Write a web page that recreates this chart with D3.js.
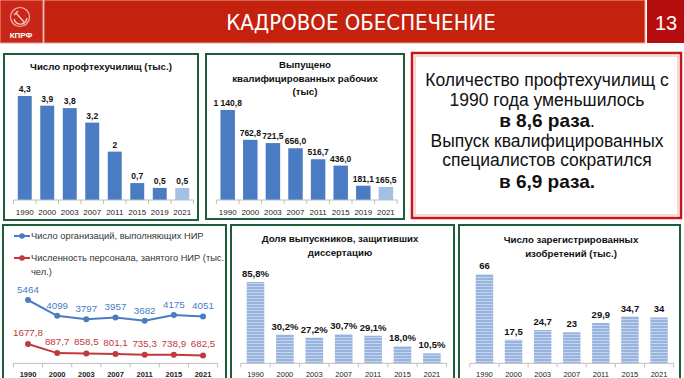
<!DOCTYPE html>
<html><head><meta charset="utf-8">
<script src="https://cdn.jsdelivr.net/npm/d3@7"></script>
<style>body{margin:0;background:#fff}svg{display:block}text{font-family:"Liberation Sans",Arial,sans-serif}</style>
</head><body>
<svg id="c" width="684" height="378"></svg>
<script>
// ---------- data ----------
const yearsTop = ["1990","2000","2003","2007","2011","2015","2019","2021"];
const schools = [4.3,3.9,3.8,3.2,2,0.7,0.5,0.5];
const workers = [1140.8,762.8,721.5,656.0,516.7,436.0,181.1,165.5];
const yearsBottom = ["1990","2000","2003","2007","2011","2015","2021"];
const orgs = [5464,4099,3797,3957,3682,4175,4051];
const staff = [1677.8,887.7,858.5,801.1,735.3,738.9,682.5];
const theses = [85.8,30.2,27.2,30.7,29.1,18.0,10.5];
const patents = [66,17.5,24.7,23,29.9,34.7,34];
const titleMain = "КАДРОВОЕ ОБЕСПЕЧЕНИЕ";
const pageNo = "13";
const title1 = ["Число профтехучилищ (тыс.)"];
const title2 = ["Выпущено","квалифицированных рабочих","(тыс)"];
const legend4 = [["Число организаций, выполняющих НИР"],["Численность персонала, занятого НИР (тыс.","чел.)"]];
const title5 = ["Доля выпускников, защитивших","диссертацию"];
const title6 = ["Число зарегистрированных","изобретений (тыс.)"];
const boxLines = [
  [{t:"Количество профтехучилищ с",b:false}],
  [{t:"1990 года уменьшилось",b:false}],
  [{t:"в 8,6 раза",b:true},{t:".",b:false}],
  [{t:"Выпуск квалифицированных",b:false}],
  [{t:"специалистов сократился",b:false}],
  [{t:"в 6,9 раза.",b:true}]
];

const loc = d3.formatLocale({decimal:",", thousands:" ", grouping:[3], currency:["",""]});
const f1 = loc.format(",.1f");
const f1n = loc.format(".1f");
const fPlain = d => String(d).replace(".", ",");
const fPct = d => loc.format(".1f")(d) + "%";

const svg = d3.select("#c");
const defs = svg.append("defs");
const pat = defs.append("pattern").attr("id","stripes").attr("patternUnits","userSpaceOnUse").attr("width",4).attr("height",3);
pat.append("rect").attr("width",4).attr("height",3).attr("fill","#98b3de");
pat.append("rect").attr("y",1).attr("width",4).attr("height",1).attr("fill","#c3d4ee");

// ---------- header ----------
svg.append("rect").attr("x",0).attr("y",0).attr("width",43).attr("height",43).attr("fill","#c9261a").attr("stroke","#e7a090").attr("stroke-width",1);
svg.append("circle").attr("cx",20).attr("cy",17).attr("r",9.5).attr("fill","none").attr("stroke","#f0b8b0").attr("stroke-width",1.2);
svg.append("path").attr("d","M14,19 Q16,25 22,24 Q26,23 27,18 M16,13 L24,22 M14,15 L18,11").attr("fill","none").attr("stroke","#f3c8c0").attr("stroke-width",1.4);
svg.append("text").attr("x",21).attr("y",38).attr("text-anchor","middle").attr("fill","#fff").attr("font-weight","bold").attr("font-size",8).text("КПРФ");
svg.append("rect").attr("x",44).attr("y",0).attr("width",601).attr("height",43).attr("fill","#c4210f").attr("stroke","#e8a898").attr("stroke-width",1);
svg.append("rect").attr("x",647).attr("y",0).attr("width",37).attr("height",43).attr("fill","#b50d0d");
svg.append("text").attr("x",361).attr("y",30).attr("text-anchor","middle").attr("fill","#fff").attr("font-size",22)
  .style("font-family","'Liberation Sans Narrow','DejaVu Sans Condensed',sans-serif").text(titleMain);
svg.append("text").attr("x",666).attr("y",30).attr("text-anchor","middle").attr("fill","#fff").attr("font-size",20).text(pageNo);

// ---------- panels ----------
const green = "#1f5c3c";
function panel(x,y,w,h,col,sw){ svg.append("rect").attr("x",x).attr("y",y).attr("width",w).attr("height",h).attr("fill","#fff").attr("stroke",col).attr("stroke-width",sw); }
panel(4,54,194,166,green,2);
panel(206,54,198,165,green,2);
panel(412,53,269,165,"#c8141c",2.5);
svg.append("rect").attr("x",415).attr("y",56).attr("width",263).attr("height",159).attr("fill","none").attr("stroke","#e88080").attr("stroke-width",0.6);
panel(3,225,223,160,green,2);
panel(231,225,223,160,green,2);
panel(459,225,221,160,green,2);

function titleBlock(lines,cx,y0,dy,size){
  const t = svg.append("text").attr("text-anchor","middle").attr("font-weight","bold").attr("font-size",size).attr("fill","#111");
  lines.forEach((l,i)=>t.append("tspan").attr("x",cx).attr("y",y0+i*dy).text(l));
}

function axisBase(x,y0,labelsY,fs,weight){
  const r = x.range();
  const g = svg.append("g");
  g.append("line").attr("x1",r[0]).attr("x2",r[1]).attr("y1",y0).attr("y2",y0).attr("stroke","#bfbfbf").attr("stroke-width",1);
  const ticks = x.domain().map(d=>x(d)-x.step()*x.paddingInner()/2).concat([r[1]]);
  ticks.forEach(t=>g.append("line").attr("x1",t).attr("x2",t).attr("y1",y0).attr("y2",y0+4).attr("stroke","#bfbfbf"));
  g.selectAll("text.yl").data(x.domain()).join("text").attr("class","yl")
    .attr("x",d=>x(d)+x.bandwidth()/2).attr("y",labelsY).attr("text-anchor","middle")
    .attr("font-size",fs).attr("font-weight",weight).attr("fill","#222").text(d=>d);
}

function barChart(o){
  const x = d3.scaleBand().domain(o.cats).range(o.xr).paddingInner(o.pad).paddingOuter(o.pad/2);
  const y = d3.scaleLinear().domain([0,o.max]).range([o.base,o.top]);
  svg.append("g").selectAll("rect").data(o.vals).join("rect")
    .attr("x",(d,i)=>x(o.cats[i])).attr("width",x.bandwidth())
    .attr("y",d=>y(d)).attr("height",d=>o.base-y(d))
    .attr("fill",(d,i)=>o.color(i));
  svg.append("g").selectAll("text").data(o.vals).join("text")
    .attr("x",(d,i)=>x(o.cats[i])+x.bandwidth()/2).attr("y",d=>y(d)-o.lblOff)
    .attr("text-anchor","middle").attr("font-weight","bold").attr("font-size",o.lblSize).attr("fill","#111")
    .text(o.fmt);
  axisBase(x,o.base,o.yearY,o.yearSize,"normal");
}

// chart 1
titleBlock(title1,101,70,13,9.7);
barChart({cats:yearsTop,vals:schools,xr:[13.5,193.5],pad:0.38,max:4.3,base:200,top:96,
  color:i=>i===yearsTop.length-1?"#a2bfe4":"#4a7cc3",fmt:fPlain,lblOff:4,lblSize:8.5,yearY:215,yearSize:8});
// chart 2
titleBlock(title2,305,68,13.5,9.7);
barChart({cats:yearsTop,vals:workers,xr:[216.4,397.2],pad:0.36,max:1140.8,base:200,top:110,
  color:i=>i===yearsTop.length-1?"#a2bfe4":"#4a7cc3",fmt:f1,lblOff:4,lblSize:8.5,yearY:215,yearSize:8});

// text box
boxLines.forEach((line,i)=>{
  const ys=[86,106,127,147,166,188];
  const t = svg.append("text").attr("x",547).attr("y",ys[i]).attr("text-anchor","middle").attr("fill","#111");
  line.forEach(p=>t.append("tspan").attr("font-weight",p.b?"bold":"normal").attr("font-size",p.b?19:17.5).text(p.t));
});

// chart 4 line chart
{
  const x = d3.scaleBand().domain(yearsBottom).range([13.4,217.6]).paddingInner(0.4).paddingOuter(0.2);
  const y = d3.scaleLinear().domain([0,5464]).range([363.4,300]);
  const cx = d => x(d)+x.bandwidth()/2;
  const series = [{v:orgs,c:"#4a7cc3",fmt:d=>String(d),off:7},{v:staff,c:"#c0393b",fmt:f1n,off:8}];
  series.forEach((s,k)=>{
    const ly = k===0?236:258;
    svg.append("line").attr("x1",14).attr("x2",30).attr("y1",ly).attr("y2",ly).attr("stroke",s.c).attr("stroke-width",2);
    svg.append("circle").attr("cx",22).attr("cy",ly).attr("r",2.8).attr("fill",s.c);
    const t = svg.append("text").attr("font-size",9.3).attr("fill","#333");
    legend4[k].forEach((l,j)=>t.append("tspan").attr("x",31).attr("y",ly+3.3+j*14).text(l));
    const line = d3.line().x((d,i)=>cx(yearsBottom[i])).y(d=>y(d));
    svg.append("path").attr("d",line(s.v)).attr("fill","none").attr("stroke",s.c).attr("stroke-width",2);
    svg.append("g").selectAll("circle").data(s.v).join("circle").attr("cx",(d,i)=>cx(yearsBottom[i])).attr("cy",d=>y(d)).attr("r",3).attr("fill",s.c);
    svg.append("g").selectAll("text").data(s.v).join("text").attr("x",(d,i)=>cx(yearsBottom[i])).attr("y",d=>y(d)-s.off)
      .attr("text-anchor","middle").attr("font-size",9.8).attr("fill",s.c).text(s.fmt);
  });
  axisBase(x,363.4,377,7.5,"bold");
}
// chart 5
titleBlock(title5,340,242,14,9.7);
barChart({cats:yearsBottom,vals:theses,xr:[240.8,446.6],pad:0.4,max:85.8,base:363.3,top:282,
  color:()=>"url(#stripes)",fmt:fPct,lblOff:5,lblSize:9.5,yearY:377,yearSize:7.5});
// chart 6
titleBlock(title6,571,243,13.5,9.7);
barChart({cats:yearsBottom,vals:patents,xr:[469.9,673.6],pad:0.4,max:66,base:363.3,top:274.3,
  color:()=>"url(#stripes)",fmt:fPlain,lblOff:5,lblSize:9.5,yearY:377,yearSize:7.5});
</script>
</body></html>
